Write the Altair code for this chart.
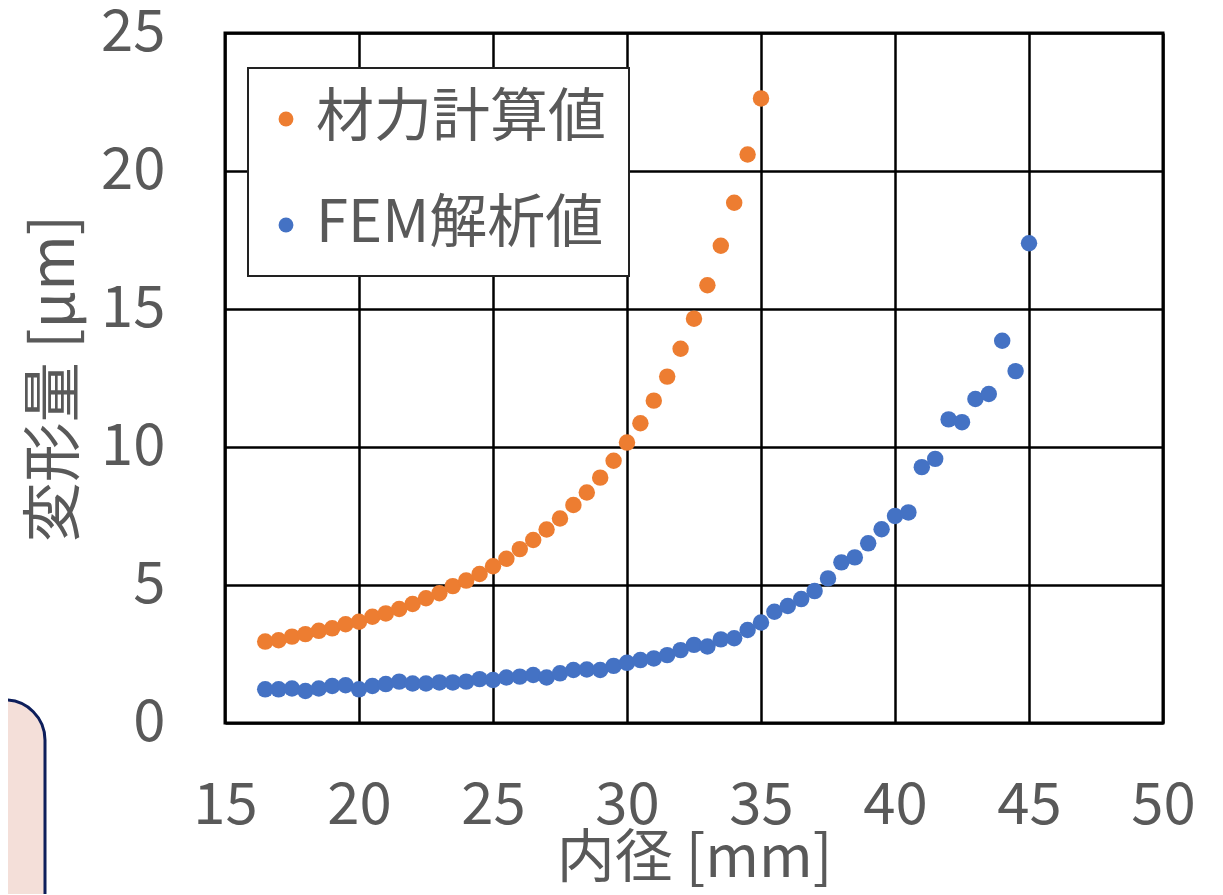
import altair as alt
import pandas as pd

# 内径 [mm] for each series
x_calc = [16.5, 17, 17.5, 18, 18.5, 19, 19.5, 20, 20.5, 21, 21.5, 22, 22.5, 23, 23.5,
          24, 24.5, 25, 25.5, 26, 26.5, 27, 27.5, 28, 28.5, 29, 29.5, 30, 30.5, 31,
          31.5, 32, 32.5, 33, 33.5, 34, 34.5, 35]
y_calc = [2.95, 3.0, 3.13, 3.22, 3.34, 3.43, 3.58, 3.67, 3.85, 3.97,
          4.13, 4.31, 4.52, 4.7, 4.96, 5.16, 5.4, 5.68, 5.95, 6.3,
          6.63, 7.01, 7.41, 7.9, 8.35, 8.89, 9.5, 10.16, 10.86, 11.68,
          12.55, 13.56, 14.65, 15.86, 17.29, 18.85, 20.6, 22.63]

x_fem = [16.5, 17, 17.5, 18, 18.5, 19, 19.5, 20, 20.5, 21, 21.5, 22, 22.5, 23, 23.5,
         24, 24.5, 25, 25.5, 26, 26.5, 27, 27.5, 28, 28.5, 29, 29.5, 30, 30.5, 31,
         31.5, 32, 32.5, 33, 33.5, 34, 34.5, 35, 35.5, 36, 36.5, 37, 37.5, 38, 38.5,
         39, 39.5, 40, 40.5, 41, 41.5, 42, 42.5, 43, 43.5, 44, 44.5, 45]
y_fem = [1.22, 1.22, 1.25, 1.16, 1.25, 1.34, 1.37, 1.22, 1.34, 1.41,
         1.5, 1.43, 1.43, 1.47, 1.47, 1.5, 1.59, 1.56, 1.65, 1.68,
         1.74, 1.65, 1.8, 1.92, 1.94, 1.92, 2.07, 2.18, 2.28, 2.34,
         2.46, 2.64, 2.83, 2.77, 3.03, 3.07, 3.37, 3.64, 4.03, 4.24,
         4.49, 4.78, 5.24, 5.82, 6.0, 6.51, 7.02, 7.5, 7.63, 9.27,
         9.57, 11.0, 10.9, 11.74, 11.92, 13.85, 12.75, 17.38]

series_names = ["材力計算値", "FEM解析値"]
series_colors = ["#ED7D31", "#4472C4"]
x_ticks = [15, 20, 25, 30, 35, 40, 45, 50]
y_ticks = [0, 5, 10, 15, 20, 25]

rows = [{"d": a, "v": b, "s": series_names[0]} for a, b in zip(x_calc, y_calc)]
rows += [{"d": a, "v": b, "s": series_names[1]} for a, b in zip(x_fem, y_fem)]
df = pd.DataFrame(rows)

FONT = "Noto Sans CJK JP"
GRAY = "#595959"

points = alt.Chart(df).mark_circle(size=270, opacity=1).encode(
    x=alt.X("d:Q",
            scale=alt.Scale(domain=[15, 50], nice=False, zero=False),
            axis=alt.Axis(values=x_ticks, title="内径 [mm]", labelPadding=54,
                          labelFlush=False, titlePadding=-5, titleFontSize=58)),
    y=alt.Y("v:Q",
            scale=alt.Scale(domain=[0, 25], nice=False),
            axis=alt.Axis(values=y_ticks, title="変形量 [μm]", labelPadding=60,
                          labelFlush=False, titlePadding=14)),
    color=alt.Color("s:N",
                    scale=alt.Scale(domain=series_names, range=series_colors),
                    legend=alt.Legend(title=None, orient="none", legendX=23, legendY=35,
                                      fillColor="white", strokeColor="#222222",
                                      padding=22, symbolType="circle",
                                      symbolSize=220, symbolOffset=-13, labelOffset=1,
                                      rowPadding=48, labelFontSize=58, labelFont=FONT,
                                      labelColor=GRAY, labelLimit=400)),
)

deco = alt.Chart(pd.DataFrame({"k": [0]})).mark_rect(
    fill="#F4DFD9", stroke="#0D1E5B", strokeWidth=3, cornerRadius=42, clip=False
).encode(
    x=alt.value(-260), x2=alt.value(-180), y=alt.value(667), y2=alt.value(900)
)

chart = alt.layer(deco, points).properties(
    width=938, height=690,
    autosize=alt.AutoSizeParams(type="none"),
    padding={"left": 217, "top": 25, "right": 50, "bottom": 171},
).configure_view(
    stroke="#000000", strokeWidth=3
).configure_axis(
    grid=True, gridColor="#000000", gridWidth=2.5, domain=False, ticks=False,
    labelFont=FONT, labelFontSize=58, labelColor=GRAY,
    titleFont=FONT, titleFontSize=60, titleColor=GRAY, titleFontWeight="normal",
).configure_legend(
    strokeWidth=2
)

chart.save("out.html", embed_options={"renderer": "svg", "actions": False})
